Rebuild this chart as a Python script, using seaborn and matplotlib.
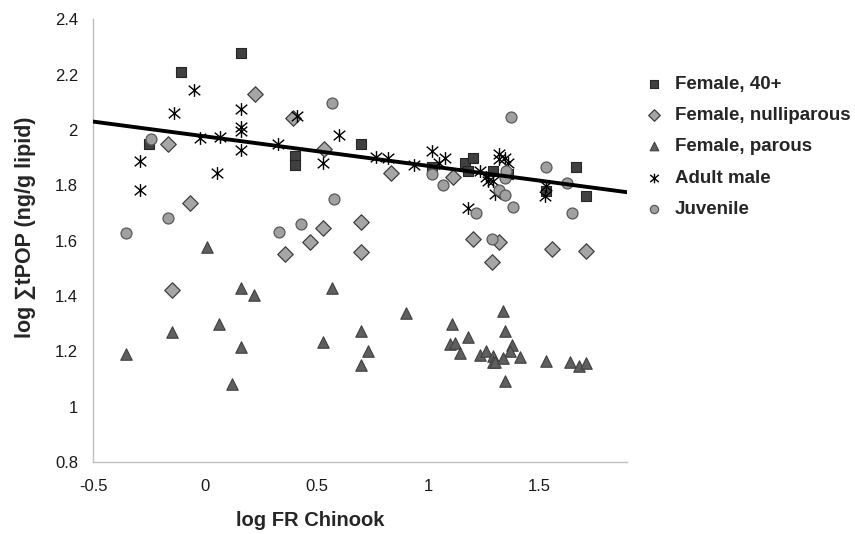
import numpy as np
import pandas as pd
import seaborn as sns
import matplotlib
matplotlib.use("Agg")
import matplotlib.pyplot as plt
from matplotlib.path import Path
from matplotlib.ticker import FuncFormatter

# ---- data ----
f40_x = [-0.25, -0.105, 0.164, 0.406, 0.406, 0.70, 1.016, 1.164, 1.177, 1.20, 1.289, 1.36, 1.527, 1.662, 1.706]
f40_y = [1.95, 2.209, 2.277, 1.906, 1.874, 1.95, 1.865, 1.88, 1.85, 1.90, 1.852, 1.84, 1.78, 1.867, 1.762]

fnul_x = [-0.163, -0.065, -0.146, 0.226, 0.397, 0.361, 0.473, 0.528, 0.536, 0.70, 0.70, 0.832, 1.114, 1.20, 1.285, 1.32, 1.554, 1.706]
fnul_y = [1.95, 1.737, 1.423, 2.13, 2.043, 1.553, 1.596, 1.647, 1.932, 1.668, 1.56, 1.845, 1.83, 1.607, 1.524, 1.596, 1.571, 1.564]

fpar_x = [0.01, 0.16, 0.222, 0.065, -0.146, 0.164, -0.352, 0.124,
          0.572, 0.90, 0.70, 0.528, 0.73, 0.70,
          1.334, 1.107, 1.343, 1.18, 1.10, 1.123, 1.375, 1.141, 1.235, 1.258, 1.366,
          1.289, 1.289, 1.30, 1.334, 1.414, 1.527, 1.634, 1.675, 1.706, 1.343]
fpar_y = [1.575, 1.427, 1.405, 1.30, 1.268, 1.214, 1.189, 1.081,
          1.427, 1.34, 1.272, 1.232, 1.20, 1.15,
          1.344, 1.30, 1.272, 1.25, 1.225, 1.228, 1.222, 1.193, 1.186, 1.20, 1.20,
          1.182, 1.16, 1.16, 1.175, 1.178, 1.164, 1.16, 1.146, 1.157, 1.092]

male_x = [-0.05, -0.137, 0.164, 0.164, 0.164, -0.02, 0.07, 0.164, -0.289, 0.056, -0.289,
          0.33, 0.415, 0.60, 0.528, 0.765, 0.82, 0.937, 1.016,
          1.047, 1.078, 1.177, 1.235, 1.258, 1.289, 1.298, 1.32, 1.32, 1.343, 1.36, 1.527, 1.522, 1.27]
male_y = [2.144, 2.061, 2.075, 2.011, 1.996, 1.971, 1.975, 1.928, 1.888, 1.845, 1.784,
          1.95, 2.05, 1.982, 1.881, 1.903, 1.899, 1.874, 1.924,
          1.881, 1.899, 1.719, 1.852, 1.83, 1.816, 1.769, 1.914, 1.895, 1.899, 1.881, 1.798, 1.762, 1.816]

juv_x = [-0.24, -0.163, -0.352, 0.572, 0.58, 0.433, 0.334,
         1.37, 1.016, 1.065, 1.217, 1.285, 1.32, 1.343, 1.343, 1.348, 1.379, 1.527, 1.621, 1.643]
juv_y = [1.968, 1.683, 1.629, 2.097, 1.751, 1.661, 1.632,
         2.047, 1.841, 1.802, 1.701, 1.604, 1.784, 1.766, 1.827, 1.852, 1.722, 1.867, 1.809, 1.701]

trend_x = [-0.5, 1.89]
trend_y = [2.03, 1.775]

groups = ["Female, 40+", "Female, nulliparous", "Female, parous", "Adult male", "Juvenile"]
x_ticks = [-0.5, 0, 0.5, 1, 1.5]
y_ticks = [0.8, 1.0, 1.2, 1.4, 1.6, 1.8, 2.0, 2.2, 2.4]

# ---- plotting ----
sns.set_theme(style="white")
plt.rcParams['font.family'] = ['Liberation Sans', 'DejaVu Sans']

fig = plt.figure(figsize=(8.55, 5.34), dpi=100)
ax = fig.add_axes([0.109, 0.135, 0.624, 0.829])

star = Path([(0, -1), (0, 1), (-0.9, -0.75), (0.9, 0.75), (-0.9, 0.75), (0.9, -0.75)],
            [Path.MOVETO, Path.LINETO, Path.MOVETO, Path.LINETO, Path.MOVETO, Path.LINETO])

data = [(f40_x, f40_y), (fnul_x, fnul_y), (fpar_x, fpar_y), (male_x, male_y), (juv_x, juv_y)]
styles = [
    dict(marker="s", s=62, color="#404040", edgecolor="#262626", linewidth=0.8),
    dict(marker="D", s=62, color="#a6a6a6", edgecolor="#404040", linewidth=0.9),
    dict(marker="^", s=68, color="#5f5f5f", edgecolor="#404040", linewidth=0.8),
    dict(marker=star, s=85, color="black", edgecolor="black", linewidth=1.0),
    dict(marker="o", s=62, color="#a0a0a0", edgecolor="#595959", linewidth=0.9),
]

for (xs, ys), name, st in zip(data, groups, styles):
    df = pd.DataFrame({"x": xs, "y": ys})
    sns.scatterplot(data=df, x="x", y="y", ax=ax, label=name, zorder=3, **st)

sns.lineplot(x=trend_x, y=trend_y, ax=ax, color="black", linewidth=2.8, zorder=4, legend=False)

ax.set_xlim(-0.5, 1.89)
ax.set_ylim(0.8, 2.4)
ax.set_xticks(x_ticks)
ax.set_yticks(y_ticks)
fmt = FuncFormatter(lambda v, p: f"{v:g}")
ax.xaxis.set_major_formatter(fmt)
ax.yaxis.set_major_formatter(fmt)
ax.tick_params(axis="both", length=0, labelsize=12, labelcolor="#1a1a1a")
ax.tick_params(axis="x", pad=12)
ax.tick_params(axis="y", pad=11)
for side in ["top", "right"]:
    ax.spines[side].set_visible(False)
for side in ["left", "bottom"]:
    ax.spines[side].set_color("#bfbfbf")
    ax.spines[side].set_linewidth(1.0)

ax.set_xlabel("log FR Chinook", fontsize=14.5, fontweight="bold")
ax.set_ylabel("log \u2211tPOP (ng/g lipid)", fontsize=15.5, fontweight="bold")
ax.xaxis.set_label_coords(0.407, -0.132)
ax.yaxis.set_label_coords(-0.127, 0.53)
ax.xaxis.label.set_verticalalignment("center")
ax.yaxis.label.set_verticalalignment("center")

leg = ax.legend(loc="upper left", bbox_to_anchor=(1.02, 0.89), frameon=False,
                prop={"weight": "bold", "size": 13.5}, handletextpad=0.6, handlelength=1.0,
                labelspacing=0.76, markerscale=0.75, borderaxespad=0)

fig.savefig("out.png", dpi=100)
